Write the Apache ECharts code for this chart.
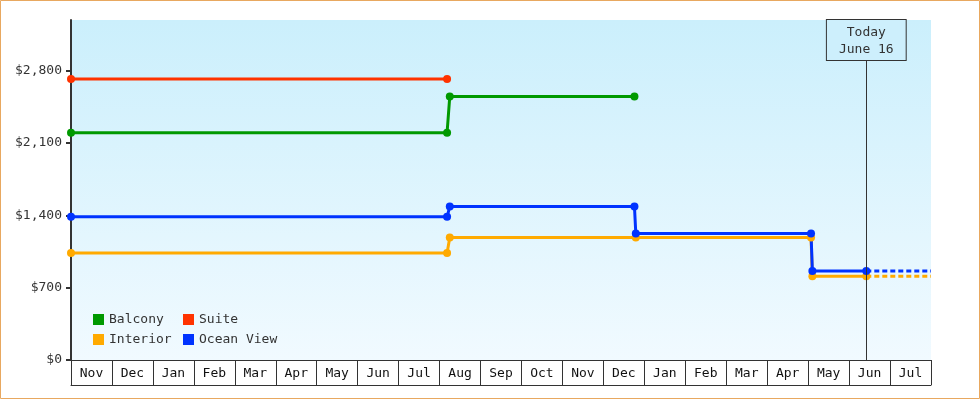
<!DOCTYPE html>
<html>
<head>
<meta charset="utf-8">
<script src="https://cdn.jsdelivr.net/npm/echarts@6/dist/echarts.min.js"></script>
<style>
  html, body { margin: 0; padding: 0; background: #fff; }
  #chart { width: 980px; height: 400px; }
</style>
</head>
<body>
<div id="chart"></div>
<script>
// ---- data ----
const months = ['Nov','Dec','Jan','Feb','Mar','Apr','May','Jun','Jul','Aug','Sep','Oct','Nov','Dec','Jan','Feb','Mar','Apr','May','Jun','Jul'];
const axisStart = '2024-11-01';
const axisEnd = '2026-08-01';
const yTicks = [0, 700, 1400, 2100, 2800];
const yMax = 3290;

const suite = [['2024-11-01', 2720], ['2025-08-07', 2720]];
const balcony = [['2024-11-01', 2200], ['2025-08-07', 2200], ['2025-08-09', 2550], ['2025-12-24', 2550]];
const oceanView = [['2024-11-01', 1385], ['2025-08-07', 1385], ['2025-08-09', 1485], ['2025-12-24', 1485],
                   ['2025-12-25', 1225], ['2026-05-04', 1225], ['2026-05-05', 860], ['2026-06-14', 860]];
const oceanViewFuture = [['2026-06-14', 860], ['2026-08-01', 860]];
const interior = [['2024-11-01', 1035], ['2025-08-07', 1035], ['2025-08-09', 1185], ['2025-12-25', 1185],
                  ['2026-05-04', 1185], ['2026-05-05', 810], ['2026-06-14', 810]];
const interiorFuture = [['2026-06-14', 810], ['2026-08-01', 810]];
const todayDate = '2026-06-14';
const todayLabel = 'Today\nJune 16';

// ---- chart ----
const FONT = 'DejaVu Sans Mono';
const TXT = '#333';
const chart = echarts.init(document.getElementById('chart'));

function solid(name, color, data, extra) {
  return Object.assign({
    name, type: 'line', xAxisIndex: 0, yAxisIndex: 0, data,
    color, symbol: 'circle', symbolSize: 8, showSymbol: true,
    lineStyle: { width: 3, color }, itemStyle: { color },
    emphasis: { disabled: true }
  }, extra || {});
}
function dashed(name, color, data) {
  return {
    name, type: 'line', xAxisIndex: 0, yAxisIndex: 0, data,
    color, symbol: 'none', showSymbol: false,
    lineStyle: { width: 3, color, type: [5, 3] },
    emphasis: { disabled: true }
  };
}

const legendBase = {
  orient: 'vertical', itemWidth: 11, itemHeight: 11, itemGap: 7, padding: 0,
  icon: 'rect', selectedMode: false,
  textStyle: { fontFamily: FONT, fontSize: 13, color: TXT }
};

chart.setOption({
  animation: false,
  textStyle: { fontFamily: FONT },
  graphic: [{
    type: 'rect', z: 100, silent: true,
    shape: { x: 0.5, y: 0.5, width: 979, height: 398 },
    style: { fill: 'none', stroke: '#E8A860', lineWidth: 1 }
  }],
  legend: [
    Object.assign({ left: 93, top: 313, data: ['Balcony', 'Interior'] }, legendBase),
    Object.assign({ left: 183, top: 313, data: ['Suite', 'Ocean View'] }, legendBase)
  ],
  grid: {
    left: 71, right: 49, top: 20, bottom: 40, show: true, borderWidth: 0,
    backgroundColor: new echarts.graphic.LinearGradient(0, 0, 0, 1, [
      { offset: 0, color: '#CBEFFC' }, { offset: 1, color: '#F1FAFF' }
    ])
  },
  xAxis: [
    { type: 'time', min: axisStart, max: axisEnd, show: false },
    {
      type: 'category', data: months, position: 'bottom', boundaryGap: true,
      axisLine: { show: true, lineStyle: { color: TXT, width: 1 } },
      axisTick: { show: true, interval: 0, length: 25, lineStyle: { color: TXT, width: 1 } },
      axisLabel: { interval: 0, margin: 7, fontFamily: FONT, fontSize: 13, color: '#111' },
      splitLine: { show: false }
    },
    {
      type: 'category', data: months, position: 'bottom', offset: 25, boundaryGap: true,
      axisLine: { show: true, lineStyle: { color: TXT, width: 1 } },
      axisTick: { show: false }, axisLabel: { show: false }, splitLine: { show: false }
    }
  ],
  yAxis: {
    type: 'value', min: 0, max: yMax,
    axisLine: { show: true, lineStyle: { color: TXT, width: 2 } },
    axisTick: { show: true, length: 5, customValues: yTicks, lineStyle: { color: TXT, width: 2 } },
    axisLabel: {
      customValues: yTicks, margin: 9, fontFamily: FONT, fontSize: 13, color: TXT,
      formatter: v => '$' + v.toLocaleString('en-US')
    },
    splitLine: { show: false }
  },
  series: [
    solid('Suite', '#FF3300', suite),
    solid('Balcony', '#009900', balcony),
    dashed('Interior', '#FFAA00', interiorFuture),
    solid('Interior', '#FFAA00', interior),
    dashed('Ocean View', '#0033FF', oceanViewFuture),
    solid('Ocean View', '#0033FF', oceanView, {
      markLine: {
        silent: true, symbol: ['none', 'none'], z: 10,
        lineStyle: { color: TXT, width: 1, type: 'solid' },
        label: {
          show: true, position: 'end', distance: -40, formatter: todayLabel,
          fontFamily: FONT, fontSize: 13, color: TXT, lineHeight: 17,
          backgroundColor: '#CDEFFC', borderColor: TXT, borderWidth: 1,
          padding: [4, 12, 2, 12]
        },
        data: [{ xAxis: todayDate }]
      }
    })
  ]
});
</script>
</body>
</html>
